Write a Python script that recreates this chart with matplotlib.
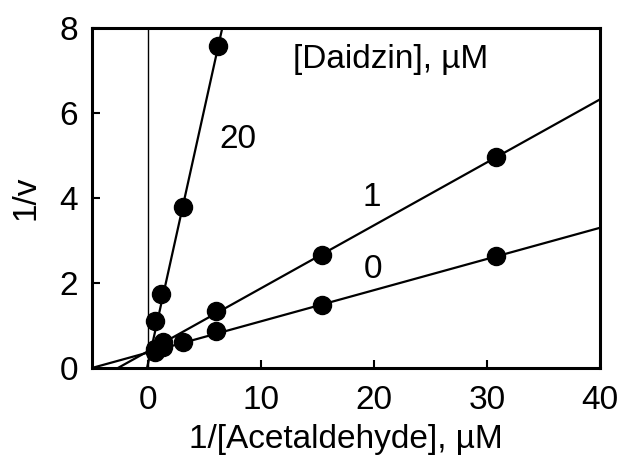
import numpy as np
import matplotlib
matplotlib.use("Agg")
import matplotlib.pyplot as plt

plt.rcParams['font.family'] = ['Liberation Sans', 'DejaVu Sans']

# data
x0 = [0.56, 1.29, 3.06, 6.0, 15.35, 30.85]
y0 = [0.38, 0.50, 0.60, 0.87, 1.49, 2.63]
x1 = [0.56, 1.29, 6.0, 15.35, 30.85]
y1 = [0.45, 0.60, 1.34, 2.67, 4.96]
x20 = [0.56, 1.14, 3.1, 6.15]
y20 = [1.11, 1.74, 3.80, 7.58]

# fitted lines (slope, intercept)
slopes = [0.0733, 0.148, 1.2]
intercepts = [0.367, 0.40, 0.15]

fig = plt.figure(figsize=(6.26, 4.62), dpi=100)
ax = fig.add_axes([0.147, 0.2035, 0.811, 0.7355])

xx = np.array([-5, 40])
for m, b in zip(slopes, intercepts):
    ax.plot(xx, m * xx + b, color='black', lw=1.6, zorder=2)

for xs, ys in [(x0, y0), (x1, y1), (x20, y20)]:
    ax.plot(xs, ys, 'o', color='black', ms=13, zorder=3)

ax.axvline(0, color='black', lw=1.0, zorder=1)

ax.set_xlim(-5, 40)
ax.set_ylim(0, 8)
ax.set_xticks([0, 10, 20, 30, 40])
ax.set_yticks([0, 2, 4, 6, 8])
ax.tick_params(direction='in', length=6, width=1.5, labelsize=24)
ax.tick_params(axis='x', pad=12)
ax.tick_params(axis='y', pad=10)
for s in ax.spines.values():
    s.set_linewidth(2.2)

ax.set_xlabel("1/[Acetaldehyde], µM", fontsize=24, labelpad=6)
ax.set_ylabel("1/v", fontsize=24, labelpad=13)

ax.text(12.8, 7.27, "[Daidzin], µM", fontsize=24, ha='left', va='center')
ax.text(7.9, 5.37, "20", fontsize=24, ha='center', va='center')
ax.text(19.8, 4.01, "1", fontsize=24, ha='center', va='center')
ax.text(19.9, 2.33, "0", fontsize=24, ha='center', va='center')

fig.savefig("out.png", dpi=100)
